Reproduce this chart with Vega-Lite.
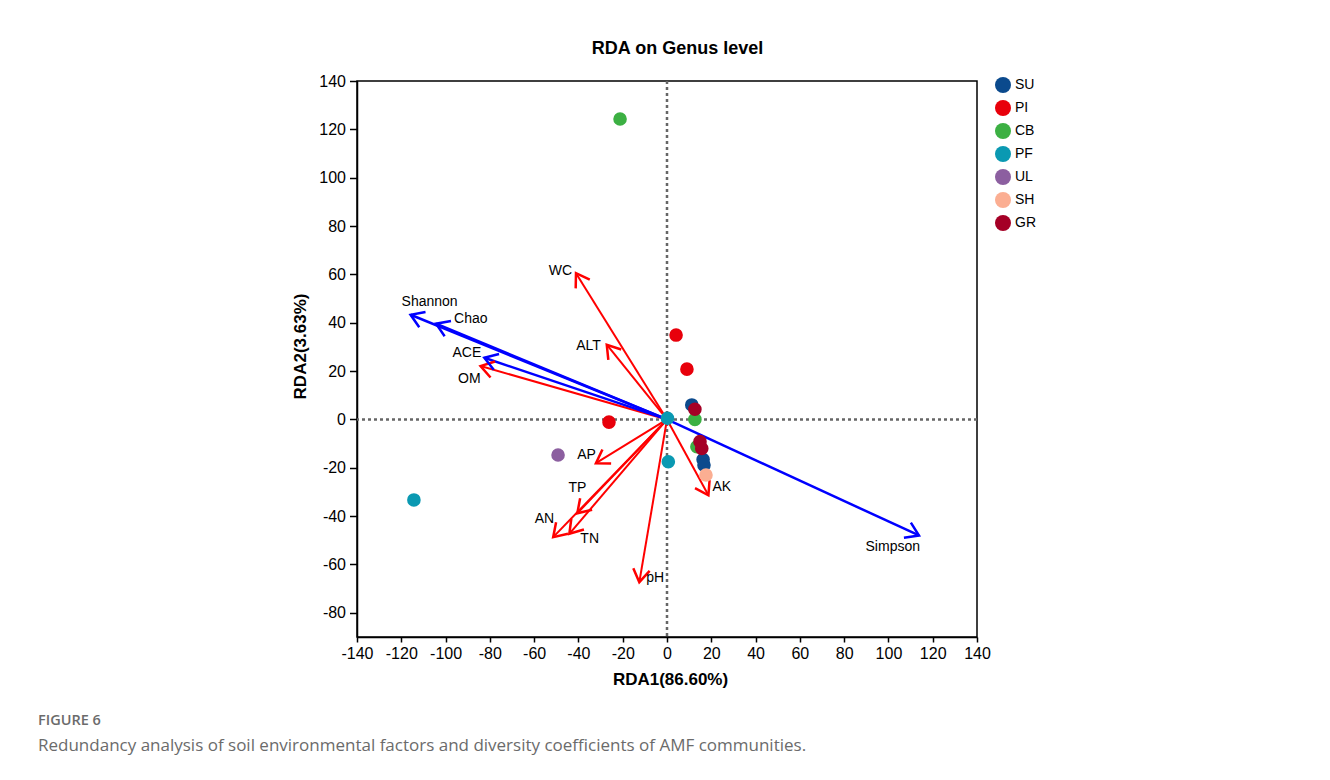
{
  "$schema": "https://vega.github.io/schema/vega-lite/v6.json",
  "width": 620,
  "height": 556,
  "autosize": "none",
  "padding": {"left": 357, "top": 81, "right": 353, "bottom": 143},
  "background": "white",
  "config": {"view": {"stroke": "#000", "strokeWidth": 1.5}},
  "resolve": {"axis": {"x": "independent", "y": "independent"}},
  "title": {
    "text": "FIGURE 6",
    "subtitle": "Redundancy analysis of soil environmental factors and diversity coefficients of AMF communities.",
    "orient": "bottom",
    "anchor": "start",
    "frame": "group",
    "dx": -319,
    "offset": 27,
    "font": "Open Sans",
    "fontSize": 14.5,
    "fontWeight": 600,
    "color": "#6b6b6b",
    "subtitleFont": "Open Sans",
    "subtitleFontSize": 17,
    "subtitleColor": "#6b6b6b",
    "subtitlePadding": 9
  },
  "datasets": {
    "samples": [
      {"group": "SU", "x": 11.2, "y": 6.0},
      {"group": "SU", "x": 16.3, "y": -16.6},
      {"group": "SU", "x": 16.7, "y": -18.9},
      {"group": "PI", "x": 4.1, "y": 34.9},
      {"group": "PI", "x": 9.0, "y": 20.8},
      {"group": "PI", "x": -26.2, "y": -1.1},
      {"group": "CB", "x": -21.2, "y": 124.3},
      {"group": "CB", "x": 12.6, "y": 0.0},
      {"group": "CB", "x": 13.5, "y": -11.3},
      {"group": "PF", "x": 0.2, "y": 0.5},
      {"group": "PF", "x": 0.6, "y": -17.5},
      {"group": "PF", "x": -114.3, "y": -33.3},
      {"group": "UL", "x": -49.2, "y": -14.7},
      {"group": "SH", "x": 17.6, "y": -23.0},
      {"group": "GR", "x": 12.6, "y": 4.2},
      {"group": "GR", "x": 14.9, "y": -9.2},
      {"group": "GR", "x": 15.7, "y": -12.0}
    ],
    "vectors": [
      {"name": "WC", "kind": "env", "x": -41.1, "y": 60.5},
      {"name": "ALT", "kind": "env", "x": -27.2, "y": 30.9},
      {"name": "OM", "kind": "env", "x": -84.2, "y": 22.1},
      {"name": "AP", "kind": "env", "x": -32.1, "y": -18.1},
      {"name": "TP", "kind": "env", "x": -40.5, "y": -38.8},
      {"name": "AN", "kind": "env", "x": -51.4, "y": -48.7},
      {"name": "TN", "kind": "env", "x": -44.1, "y": -47.3},
      {"name": "pH", "kind": "env", "x": -12.5, "y": -67.3},
      {"name": "AK", "kind": "env", "x": 18.7, "y": -31.4},
      {"name": "Shannon", "kind": "div", "x": -115.8, "y": 43.3},
      {"name": "Chao", "kind": "div", "x": -104.3, "y": 39.6},
      {"name": "ACE", "kind": "div", "x": -82.5, "y": 25.5},
      {"name": "Simpson", "kind": "div", "x": 113.8, "y": -48.0}
    ]
  },
  "layer": [
    {
      "data": {"values": [{}]},
      "mark": {"type": "rule", "stroke": "#666", "strokeDash": [3, 3], "strokeWidth": 2.5},
      "encoding": {
        "x": {"datum": 0, "type": "quantitative",
          "scale": {"domain": [-140, 140], "nice": false, "zero": false},
          "axis": {"orient": "top", "labels": false, "ticks": false, "domain": false, "grid": false,
            "title": "RDA on Genus level", "titleFont": "Liberation Sans, Arial, sans-serif", "titleFontSize": 18,
            "titleFontWeight": "bold", "titleColor": "#000", "titlePadding": 24, "titleX": 320}}
      }
    },
    {
      "data": {"values": [{}]},
      "mark": {"type": "rule", "stroke": "#666", "strokeDash": [3, 3], "strokeWidth": 2.5},
      "encoding": {
        "y": {"datum": 0, "type": "quantitative",
          "scale": {"domain": [-90, 140], "nice": false, "zero": false},
          "axis": {"orient": "left", "values": [-80, -60, -40, -20, 0, 20, 40, 60, 80, 100, 120, 140],
            "labelExpr": "'' + datum.value",
            "title": "RDA2(3.63%)", "grid": false, "domainColor": "#000", "domainWidth": 1.5,
            "tickColor": "#000", "tickWidth": 1.5, "tickSize": 7.5, "labelFont": "Liberation Sans, Arial, sans-serif",
            "labelFontSize": 16, "labelColor": "#000", "labelPadding": 4, "labelOverlap": false, "labelFlush": false,
            "titleFont": "Liberation Sans, Arial, sans-serif", "titleFontSize": 17, "titleFontWeight": "bold",
            "titleColor": "#000", "titlePadding": 9, "titleY": 265}}
      }
    },
    {
      "data": {"name": "vectors"},
      "transform": [{"filter": "datum.kind == 'env'"}],
      "mark": {"type": "rule", "stroke": "#ff0000", "strokeWidth": 2},
      "encoding": {
        "x": {"field": "x", "type": "quantitative", "scale": {"domain": [-140, 140], "nice": false, "zero": false}, "axis": null},
        "y": {"field": "y", "type": "quantitative", "scale": {"domain": [-90, 140], "nice": false, "zero": false}, "axis": null},
        "x2": {"datum": 0},
        "y2": {"datum": 0}
      }
    },
    {
      "data": {"name": "vectors"},
      "transform": [{"filter": "datum.kind == 'div'"}],
      "mark": {"type": "rule", "stroke": "#0000ff", "strokeWidth": 2.5},
      "encoding": {
        "x": {"field": "x", "type": "quantitative", "scale": {"domain": [-140, 140], "nice": false, "zero": false}, "axis": null},
        "y": {"field": "y", "type": "quantitative", "scale": {"domain": [-90, 140], "nice": false, "zero": false}, "axis": null},
        "x2": {"datum": 0},
        "y2": {"datum": 0}
      }
    },
    {
      "data": {"name": "vectors"},
      "transform": [
        {"filter": "datum.kind == 'env'"},
        {"calculate": "atan2(-datum.y * 2.4174, datum.x * 2.2143) * 180 / PI", "as": "ang"}
      ],
      "mark": {"type": "point", "shape": "M-1,-0.65L0,0L-1,0.65", "filled": false, "stroke": "#ff0000", "strokeWidth": 2.5, "size": 650, "opacity": 1},
      "encoding": {
        "x": {"field": "x", "type": "quantitative", "scale": {"domain": [-140, 140], "nice": false, "zero": false}, "axis": null},
        "y": {"field": "y", "type": "quantitative", "scale": {"domain": [-90, 140], "nice": false, "zero": false}, "axis": null},
        "angle": {"field": "ang", "type": "quantitative", "scale": null}
      }
    },
    {
      "data": {"name": "vectors"},
      "transform": [
        {"filter": "datum.kind == 'div'"},
        {"calculate": "atan2(-datum.y * 2.4174, datum.x * 2.2143) * 180 / PI", "as": "ang"}
      ],
      "mark": {"type": "point", "shape": "M-1,-0.65L0,0L-1,0.65", "filled": false, "stroke": "#0000ff", "strokeWidth": 2.5, "size": 650, "opacity": 1},
      "encoding": {
        "x": {"field": "x", "type": "quantitative", "scale": {"domain": [-140, 140], "nice": false, "zero": false}, "axis": null},
        "y": {"field": "y", "type": "quantitative", "scale": {"domain": [-90, 140], "nice": false, "zero": false}, "axis": null},
        "angle": {"field": "ang", "type": "quantitative", "scale": null}
      }
    },
    {"data": {"name": "vectors"}, "transform": [{"filter": "datum.name == 'WC'"}],
     "mark": {"type": "text", "font": "Liberation Sans, Arial, sans-serif", "fontSize": 14, "fill": "#000", "align": "right", "baseline": "middle", "dx": -4, "dy": -2},
     "encoding": {"x": {"field": "x", "type": "quantitative", "axis": null}, "y": {"field": "y", "type": "quantitative", "axis": null}, "text": {"field": "name"}}},
    {"data": {"name": "vectors"}, "transform": [{"filter": "datum.name == 'Shannon'"}],
     "mark": {"type": "text", "font": "Liberation Sans, Arial, sans-serif", "fontSize": 14, "fill": "#000", "align": "left", "baseline": "middle", "dx": -9, "dy": -13},
     "encoding": {"x": {"field": "x", "type": "quantitative", "axis": null}, "y": {"field": "y", "type": "quantitative", "axis": null}, "text": {"field": "name"}}},
    {"data": {"name": "vectors"}, "transform": [{"filter": "datum.name == 'Chao'"}],
     "mark": {"type": "text", "font": "Liberation Sans, Arial, sans-serif", "fontSize": 14, "fill": "#000", "align": "left", "baseline": "middle", "dx": 18, "dy": -5},
     "encoding": {"x": {"field": "x", "type": "quantitative", "axis": null}, "y": {"field": "y", "type": "quantitative", "axis": null}, "text": {"field": "name"}}},
    {"data": {"name": "vectors"}, "transform": [{"filter": "datum.name == 'ACE'"}],
     "mark": {"type": "text", "font": "Liberation Sans, Arial, sans-serif", "fontSize": 14, "fill": "#000", "align": "right", "baseline": "middle", "dx": -3, "dy": -5},
     "encoding": {"x": {"field": "x", "type": "quantitative", "axis": null}, "y": {"field": "y", "type": "quantitative", "axis": null}, "text": {"field": "name"}}},
    {"data": {"name": "vectors"}, "transform": [{"filter": "datum.name == 'OM'"}],
     "mark": {"type": "text", "font": "Liberation Sans, Arial, sans-serif", "fontSize": 14, "fill": "#000", "align": "right", "baseline": "middle", "dx": 0, "dy": 13},
     "encoding": {"x": {"field": "x", "type": "quantitative", "axis": null}, "y": {"field": "y", "type": "quantitative", "axis": null}, "text": {"field": "name"}}},
    {"data": {"name": "vectors"}, "transform": [{"filter": "datum.name == 'ALT'"}],
     "mark": {"type": "text", "font": "Liberation Sans, Arial, sans-serif", "fontSize": 14, "fill": "#000", "align": "right", "baseline": "middle", "dx": -6, "dy": 1},
     "encoding": {"x": {"field": "x", "type": "quantitative", "axis": null}, "y": {"field": "y", "type": "quantitative", "axis": null}, "text": {"field": "name"}}},
    {"data": {"name": "vectors"}, "transform": [{"filter": "datum.name == 'Simpson'"}],
     "mark": {"type": "text", "font": "Liberation Sans, Arial, sans-serif", "fontSize": 14, "fill": "#000", "align": "right", "baseline": "middle", "dx": 1, "dy": 12},
     "encoding": {"x": {"field": "x", "type": "quantitative", "axis": null}, "y": {"field": "y", "type": "quantitative", "axis": null}, "text": {"field": "name"}}},
    {"data": {"name": "vectors"}, "transform": [{"filter": "datum.name == 'AP'"}],
     "mark": {"type": "text", "font": "Liberation Sans, Arial, sans-serif", "fontSize": 14, "fill": "#000", "align": "right", "baseline": "middle", "dx": 0, "dy": -8},
     "encoding": {"x": {"field": "x", "type": "quantitative", "axis": null}, "y": {"field": "y", "type": "quantitative", "axis": null}, "text": {"field": "name"}}},
    {"data": {"name": "vectors"}, "transform": [{"filter": "datum.name == 'TP'"}],
     "mark": {"type": "text", "font": "Liberation Sans, Arial, sans-serif", "fontSize": 14, "fill": "#000", "align": "center", "baseline": "middle", "dx": 0, "dy": -25},
     "encoding": {"x": {"field": "x", "type": "quantitative", "axis": null}, "y": {"field": "y", "type": "quantitative", "axis": null}, "text": {"field": "name"}}},
    {"data": {"name": "vectors"}, "transform": [{"filter": "datum.name == 'AN'"}],
     "mark": {"type": "text", "font": "Liberation Sans, Arial, sans-serif", "fontSize": 14, "fill": "#000", "align": "right", "baseline": "middle", "dx": 1, "dy": -18},
     "encoding": {"x": {"field": "x", "type": "quantitative", "axis": null}, "y": {"field": "y", "type": "quantitative", "axis": null}, "text": {"field": "name"}}},
    {"data": {"name": "vectors"}, "transform": [{"filter": "datum.name == 'TN'"}],
     "mark": {"type": "text", "font": "Liberation Sans, Arial, sans-serif", "fontSize": 14, "fill": "#000", "align": "left", "baseline": "middle", "dx": 11, "dy": 5},
     "encoding": {"x": {"field": "x", "type": "quantitative", "axis": null}, "y": {"field": "y", "type": "quantitative", "axis": null}, "text": {"field": "name"}}},
    {"data": {"name": "vectors"}, "transform": [{"filter": "datum.name == 'pH'"}],
     "mark": {"type": "text", "font": "Liberation Sans, Arial, sans-serif", "fontSize": 14, "fill": "#000", "align": "left", "baseline": "middle", "dx": 7, "dy": -4},
     "encoding": {"x": {"field": "x", "type": "quantitative", "axis": null}, "y": {"field": "y", "type": "quantitative", "axis": null}, "text": {"field": "name"}}},
    {"data": {"name": "vectors"}, "transform": [{"filter": "datum.name == 'AK'"}],
     "mark": {"type": "text", "font": "Liberation Sans, Arial, sans-serif", "fontSize": 14, "fill": "#000", "align": "left", "baseline": "middle", "dx": 4, "dy": -8},
     "encoding": {"x": {"field": "x", "type": "quantitative", "axis": null}, "y": {"field": "y", "type": "quantitative", "axis": null}, "text": {"field": "name"}}},
    {
      "data": {"name": "samples"},
      "mark": {"type": "point", "shape": "circle", "filled": true, "size": 185, "opacity": 1, "strokeWidth": 0},
      "encoding": {
        "x": {"field": "x", "type": "quantitative",
          "scale": {"domain": [-140, 140], "nice": false, "zero": false},
          "axis": {"orient": "bottom", "values": [-140, -120, -100, -80, -60, -40, -20, 0, 20, 40, 60, 80, 100, 120, 140],
            "labelExpr": "'' + datum.value",
            "title": "RDA1(86.60%)", "grid": false, "domainColor": "#000", "domainWidth": 1.5,
            "tickColor": "#000", "tickWidth": 1.5, "tickSize": 5, "labelFont": "Liberation Sans, Arial, sans-serif",
            "labelFontSize": 16, "labelColor": "#000", "labelPadding": 3, "labelOverlap": false, "labelFlush": false,
            "titleFont": "Liberation Sans, Arial, sans-serif", "titleFontSize": 17, "titleFontWeight": "bold",
            "titleColor": "#000", "titlePadding": 10, "titleX": 313}},
        "y": {"field": "y", "type": "quantitative",
          "scale": {"domain": [-90, 140], "nice": false, "zero": false}, "axis": null},
        "color": {"field": "group", "type": "nominal",
          "scale": {"domain": ["SU", "PI", "CB", "PF", "UL", "SH", "GR"],
            "range": ["#0b4a8d", "#e8000b", "#3cb043", "#0a99b2", "#8c5fa0", "#fbae92", "#a50026"]},
          "legend": {"orient": "none", "legendX": 638, "legendY": -4, "title": null, "symbolType": "circle",
            "symbolSize": 256, "symbolStrokeWidth": 0, "labelFont": "Liberation Sans, Arial, sans-serif",
            "labelFontSize": 14, "labelColor": "#000", "labelOffset": 4, "rowPadding": 7, "padding": 0}}
      }
    }
  ]
}
